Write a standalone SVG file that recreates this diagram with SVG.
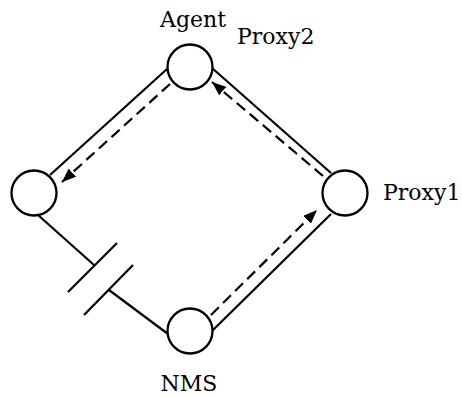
<svg xmlns="http://www.w3.org/2000/svg" width="462" height="397" viewBox="0 0 462 397">
  <style>
    .node { fill: #fff; stroke: #000; stroke-width: 2.3; }
    .edge { fill: none; stroke: #000; stroke-width: 2.2; }
    .flow { fill: none; stroke: #000; stroke-width: 2.2; stroke-dasharray: 11 6; }
    .lbl { font-family: "DejaVu Serif", "Liberation Serif", serif; font-size: 22px; fill: #000; }
  </style>
  <defs>
    <marker id="ah" markerUnits="userSpaceOnUse" markerWidth="15" markerHeight="11" refX="14" refY="5.5" orient="auto">
      <path d="M0,0 L14,5.5 L0,11 z" fill="#000"/>
    </marker>
  </defs>
  <rect width="462" height="397" fill="#fff"/>
  <g id="connectors">
    <line class="edge" x1="167" y1="69" x2="50" y2="175"/>
    <line class="edge" x1="212" y1="68" x2="331" y2="173"/>
    <line class="edge" x1="331" y1="214" x2="212" y2="331"/>
    <line class="edge" x1="38" y1="215" x2="94" y2="265"/>
    <line class="edge" x1="68" y1="292" x2="117" y2="243"/>
    <line class="edge" x1="84" y1="315" x2="133" y2="265"/>
    <line class="edge" x1="109" y1="290" x2="168" y2="334"/>
    <line class="flow" x1="170" y1="84" x2="62" y2="182" marker-end="url(#ah)"/>
    <line class="flow" x1="323" y1="176" x2="212" y2="82" marker-end="url(#ah)"/>
    <line class="flow" x1="211" y1="315" x2="317" y2="210" marker-end="url(#ah)"/>
  </g>
  <g id="agent">
    <circle class="node" cx="190" cy="67" r="22.5"/>
    <text class="lbl" x="193" y="27" text-anchor="middle">Agent</text>
    <text class="lbl" x="237" y="44">Proxy2</text>
  </g>
  <g id="left">
    <circle class="node" cx="34" cy="193" r="22.5"/>
  </g>
  <g id="proxy1">
    <circle class="node" cx="345" cy="193" r="22.5"/>
    <text class="lbl" x="383" y="200">Proxy1</text>
  </g>
  <g id="nms">
    <circle class="node" cx="190" cy="331" r="22.5"/>
    <text class="lbl" x="189" y="391" text-anchor="middle">NMS</text>
  </g>
</svg>
